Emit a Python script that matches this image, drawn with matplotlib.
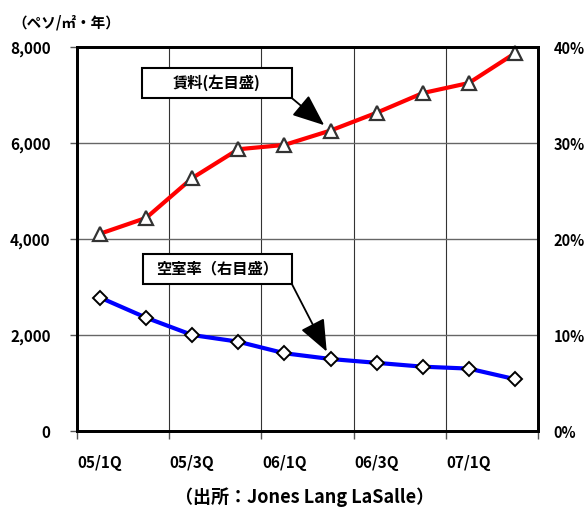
import matplotlib
matplotlib.use('Agg')
import matplotlib.pyplot as plt
from matplotlib.patches import Rectangle
from matplotlib.ticker import FixedLocator, NullFormatter, FixedFormatter

plt.rcParams['font.family'] = ['Noto Sans CJK JP', 'DejaVu Sans']
plt.rcParams['font.weight'] = 'bold'

# quarterly data
quarters = ['05/1Q', '05/2Q', '05/3Q', '05/4Q', '06/1Q',
            '06/2Q', '06/3Q', '06/4Q', '07/1Q', '07/2Q']
rent = [4110, 4440, 5270, 5870, 5960, 6260, 6630, 7040, 7250, 7870]   # peso/m2/year
vacancy = [0.139, 0.118, 0.100, 0.093, 0.081, 0.075, 0.071, 0.067, 0.065, 0.054]

left_ticks = [0, 2000, 4000, 6000, 8000]
left_labels = ['0', '2,000', '4,000', '6,000', '8,000']
right_ticks = [0, 0.1, 0.2, 0.3, 0.4]
right_labels = ['0%', '10%', '20%', '30%', '40%']

fig = plt.figure(figsize=(5.87, 5.13), dpi=100)
ax = fig.add_axes([77 / 587, 1 - 431 / 513, 461 / 587, 384 / 513])
ax2 = ax.twinx()

x = list(range(len(quarters)))

ax.plot(x, rent, color='#ff0000', lw=3, marker='^', markersize=10,
        markerfacecolor='white', markeredgecolor='#333333', markeredgewidth=1.6,
        zorder=3, clip_on=False)
ax2.plot(x, vacancy, color='#0000ff', lw=3, marker='D', markersize=7,
         markerfacecolor='white', markeredgecolor='black', markeredgewidth=1.4,
         zorder=3, clip_on=False)

ax.set_xlim(-0.5, len(quarters) - 0.5)
ax.set_ylim(0, 8000)
ax2.set_ylim(0, 0.4)

# gridlines on category boundaries every two quarters
bounds = [i - 0.5 for i in range(0, len(quarters) + 1, 2)]
ax.xaxis.set_major_locator(FixedLocator(bounds))
ax.xaxis.set_major_formatter(NullFormatter())
ax.xaxis.set_minor_locator(FixedLocator(x[::2]))
ax.xaxis.set_minor_formatter(FixedFormatter(quarters[::2]))
ax.tick_params(axis='x', which='major', direction='out', length=6, width=1, color='#555555')
ax.tick_params(axis='x', which='minor', length=0, pad=17, labelsize=11)
ax.grid(axis='x', which='major', color='#333333', lw=0.8)

ax.set_yticks(left_ticks)
ax.set_yticklabels(left_labels)
ax.tick_params(axis='y', direction='out', length=5, width=1, color='#555555',
               pad=14, labelsize=11)
ax.grid(axis='y', color='#666666', lw=1)
ax.set_axisbelow(True)

ax2.set_yticks(right_ticks)
ax2.set_yticklabels(right_labels)
ax2.tick_params(axis='y', length=0, pad=11, labelsize=10.5)

for a in (ax, ax2):
    for s in a.spines.values():
        s.set_linewidth(2)
        s.set_color('black')

# callout boxes with arrows
for (x0, y0, w, h, label) in [(0.141, 0.867, 0.325, 0.078, '賃料(左目盛)'),
                              (0.143, 0.383, 0.323, 0.078, '空室率（右目盛）')]:
    ax2.add_patch(Rectangle((x0, y0), w, h, transform=ax2.transAxes,
                            facecolor='white', edgecolor='black', lw=1.5, zorder=5))
    ax2.text(x0 + w / 2, y0 + h / 2, label, transform=ax2.transAxes,
             ha='center', va='center', fontsize=11, fontweight='bold', zorder=6)

arrow = dict(arrowstyle='-|>,head_length=1.1,head_width=0.45', mutation_scale=18,
             color='black', lw=1.3, shrinkA=0, shrinkB=6)
ax.annotate('', xy=(5, rent[5]), xycoords='data',
            xytext=(0.466, 0.867), textcoords='axes fraction',
            arrowprops=arrow, zorder=6)
ax2.annotate('', xy=(5, vacancy[5]), xycoords='data',
             xytext=(0.466, 0.383), textcoords='axes fraction',
             arrowprops=arrow, zorder=6)

fig.text(12 / 587, 1 - 22 / 513, '（ペソ/㎡・年）', ha='left', va='center',
         fontsize=10.5, fontweight='bold')
fig.text(305 / 587, 1 - 497 / 513, '（出所：Jones Lang LaSalle）', ha='center',
         va='center', fontsize=13, fontweight='bold')

fig.savefig('out.png', dpi=100)
